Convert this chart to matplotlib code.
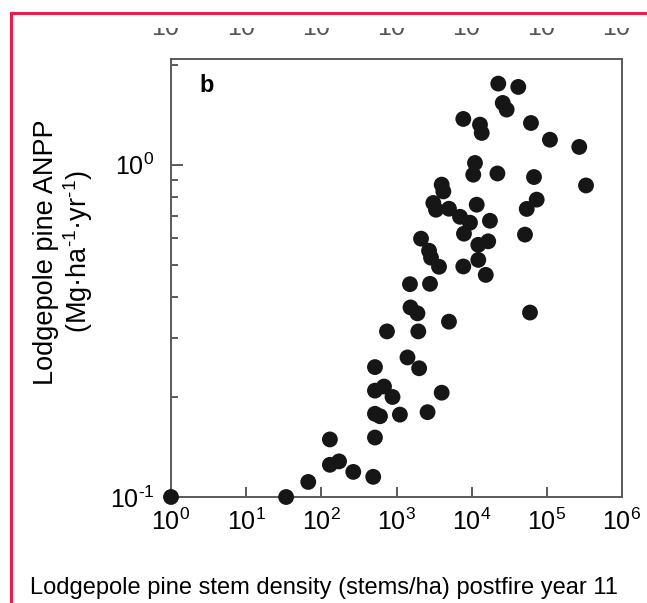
import matplotlib
matplotlib.use('Agg')
import matplotlib.pyplot as plt
import matplotlib.transforms as mtransforms
from matplotlib.lines import Line2D
from matplotlib.patches import Rectangle

plt.rcParams['font.family'] = ['Liberation Sans', 'DejaVu Sans']
plt.rcParams['mathtext.fontset'] = 'custom'
plt.rcParams['mathtext.rm'] = 'Liberation Sans'
plt.rcParams['mathtext.it'] = 'Liberation Sans:italic'
plt.rcParams['mathtext.bf'] = 'Liberation Sans:bold'

border_color = '#ec1c4b'
spine_color = '#5a5a5a'
dot_color = '#161616'

# stems/ha in postfire year 11
stem_density = [1, 34, 67, 130, 130, 172, 266, 490, 517, 517,
                603, 1110, 2590, 3990, 517, 682, 885, 517, 747, 1950,
                1400, 2000, 4990, 1535, 1900, 1510, 2790, 2120, 2710, 2880,
                3680, 7740, 12250, 15400, 7000, 9500, 7900, 11670, 17500, 12250,
                16600, 3090, 3350, 4990, 3990, 4200, 11070, 10500, 22000, 22600,
                41700, 25900, 29200, 7740, 12900, 13600, 61500, 110000, 270000, 67500,
                332000, 73300, 54000, 51200, 59700]

# Mg/ha/yr
anpp = [0.100, 0.100, 0.111, 0.149, 0.125, 0.128, 0.119, 0.115, 0.151, 0.178,
        0.175, 0.177, 0.180, 0.206, 0.209, 0.215, 0.200, 0.246, 0.315, 0.315,
        0.263, 0.244, 0.337, 0.372, 0.357, 0.437, 0.438, 0.599, 0.551, 0.525,
        0.493, 0.494, 0.517, 0.466, 0.697, 0.669, 0.620, 0.758, 0.678, 0.574,
        0.588, 0.767, 0.732, 0.737, 0.871, 0.831, 1.012, 0.933, 0.941, 1.754,
        1.714, 1.534, 1.465, 1.373, 1.320, 1.246, 1.335, 1.189, 1.131, 0.918,
        0.866, 0.785, 0.736, 0.616, 0.359]

x_ticks = [1e0, 1e1, 1e2, 1e3, 1e4, 1e5, 1e6]
x_tick_labels = [r'$\mathregular{10^{0}}$', r'$\mathregular{10^{1}}$', r'$\mathregular{10^{2}}$',
                 r'$\mathregular{10^{3}}$', r'$\mathregular{10^{4}}$', r'$\mathregular{10^{5}}$',
                 r'$\mathregular{10^{6}}$']
y_ticks = [0.1, 1.0]
y_tick_labels = [r'$\mathregular{10^{\text{-}1}}$', r'$\mathregular{10^{0}}$']
y_minor_ticks = [0.2, 0.3, 0.4, 0.5, 0.6, 0.7, 0.8, 0.9, 2.0]

x_label = 'Lodgepole pine stem density (stems/ha) postfire year 11'
y_label = ('Lodgepole pine ANPP\n'
           '(Mg\u00b7ha$\\mathregular{^{\\text{-}1}}$\u00b7yr$\\mathregular{^{\\text{-}1}}$)')
panel_label = 'b'


def plot_anpp(fname='out.png'):
    fig = plt.figure(figsize=(6.47, 6.03), dpi=100)
    ax = fig.add_axes([171 / 647, 106 / 603, 451 / 647, 438 / 603])

    ax.scatter(stem_density, anpp, s=130, color=dot_color, edgecolors='none', zorder=3, clip_on=False)

    ax.set_xscale('log')
    ax.set_yscale('log')
    ax.set_xlim(1, 1e6)
    ax.set_ylim(0.1, 2.08)

    ax.set_xticks(x_ticks)
    ax.set_xticklabels(x_tick_labels)
    ax.set_xticks([], minor=True)
    ax.set_yticks(y_ticks)
    ax.set_yticklabels(y_tick_labels)
    ax.set_yticks(y_minor_ticks, minor=True)
    ax.set_yticklabels([], minor=True)

    for s in ax.spines.values():
        s.set_color(spine_color)
        s.set_linewidth(1.4)
    ax.tick_params(axis='x', which='major', direction='in', length=7, width=1.4, color=spine_color,
                   labelsize=18, pad=8, top=False)
    ax.tick_params(axis='y', which='major', direction='in', length=8.5, width=1.4, color=spine_color,
                   labelsize=18, pad=12, right=False)
    ax.tick_params(axis='y', which='minor', direction='in', length=5, width=1.4, color=spine_color,
                   right=False)

    ax.text(0.08, 0.94, panel_label, transform=ax.transAxes, fontsize=17, fontweight='bold',
            ha='center', va='center')

    fig.text(30 / 647, 1 - 588 / 603, x_label, fontsize=17, ha='left', va='center')
    fig.text(64 / 647, 1 - 252 / 603, y_label, fontsize=19.5, rotation=90, ha='center', va='center',
             multialignment='center', linespacing=1.1)

    # tick labels of the panel above, cut off at the page edge
    trans = mtransforms.blended_transform_factory(ax.transData, fig.transFigure)
    clip = Rectangle((0, 1 - 40 / 603), 1, 12 / 603, transform=fig.transFigure)
    for xt, lab in zip(x_ticks, x_tick_labels):
        t = fig.text(xt, 1 - 36 / 603, lab, transform=trans, fontsize=18, ha='center', va='baseline',
                     color='#555555')
        t.set_clip_path(clip)

    # red frame of the screenshot
    fig.add_artist(Line2D([11 / 647, 1], [1 - 13 / 603, 1 - 13 / 603], transform=fig.transFigure,
                          color=border_color, linewidth=2.2))
    fig.add_artist(Line2D([11 / 647, 11 / 647], [0, 1 - 13 / 603], transform=fig.transFigure,
                          color=border_color, linewidth=2.2))

    plt.savefig(fname, dpi=100)


if __name__ == "__main__":
    plot_anpp()
